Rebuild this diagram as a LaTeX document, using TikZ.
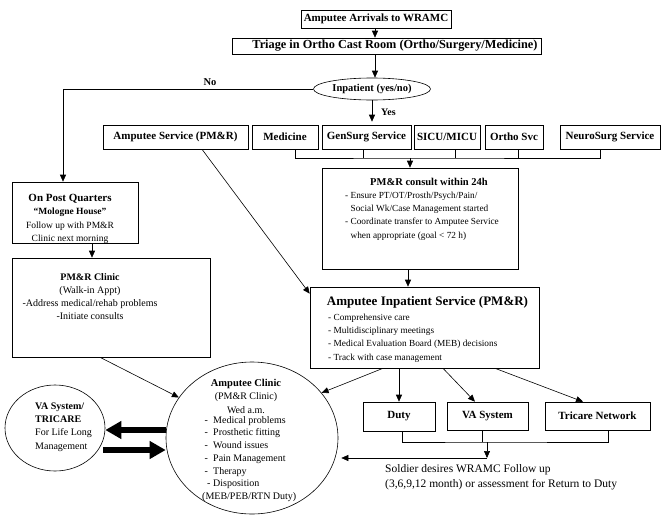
\documentclass[tikz,border=0pt]{standalone}
\usepackage{fontspec}
\setmainfont{Liberation Serif}
\usetikzlibrary{arrows.meta,shapes.geometric}
\begin{document}
\begin{tikzpicture}[x=1pt,y=-1pt,
  box/.style={draw, line width=0.6pt, inner sep=0pt, font=\bfseries\fontsize{11}{13}\selectfont},
  oval/.style={draw, ellipse, line width=0.6pt, inner sep=0pt},
  txt/.style={inner sep=0pt, font=\fontsize{9.3}{13.3}\selectfont, align=left},
  ctxt/.style={inner sep=0pt, align=center},
  arr/.style={line width=0.6pt, -{Triangle[length=7pt,width=6pt]}},
  ln/.style={line width=0.6pt},
  big/.style={line width=6pt, -{Triangle[length=16pt,width=17pt]}}]
\useasboundingbox (0,0) rectangle (661,514);
\fill[white] (0,0) rectangle (661,514);

% top chain
\node[box, minimum width=150pt, minimum height=18pt] (arrival) at (376,19) {Amputee Arrivals to WRAMC};
\node[box, minimum width=309pt, minimum height=16pt, font=\bfseries\fontsize{12.3}{14}\selectfont] (triage) at (386.5,46) {\hspace*{17pt}Triage in Ortho Cast Room (Ortho/Surgery/Medicine)};
\node[oval, minimum width=117pt, minimum height=22pt, font=\bfseries\fontsize{10.5}{12}\selectfont] (inp) at (372,89) {Inpatient (yes/no)};

% row of services
\node[box, minimum width=145pt, minimum height=24pt] (as) at (175.5,137) {Amputee Service (PM\&R)};
\node[box, minimum width=66pt, minimum height=24pt] (med) at (285,137) {Medicine};
\node[box, minimum width=89pt, minimum height=24pt] (gen) at (366.5,137) {GenSurg Service};
\node[box, minimum width=66pt, minimum height=24pt] (sicu) at (447,137) {SICU/MICU};
\node[box, minimum width=58pt, minimum height=24pt] (ortho) at (514,137) {Ortho Svc};
\node[box, minimum width=100pt, minimum height=24pt] (neuro) at (610,137) {NeuroSurg Service};

% consult box
\node[box, minimum width=196pt, minimum height=101pt] (cons) at (420,218.5) {};
\node[ctxt, font=\bfseries\fontsize{10.5}{12}\selectfont] (cons-title) at (429,182) {PM\&R consult within 24h};
\node[txt, anchor=west] (cons-body) at (345,216) {- Ensure PT/OT/Prosth/Psych/Pain/\\\hphantom{- }Social Wk/Case Management started\\- Coordinate transfer to Amputee Service\\\hphantom{- }when appropriate (goal < 72 h)};

% inpatient service
\node[box, minimum width=229pt, minimum height=81pt] (inpt) at (424.5,327.5) {};
\node[ctxt, font=\bfseries\fontsize{13}{15}\selectfont] (inpt-title) at (427.5,302) {Amputee Inpatient Service (PM\&R)};
\node[txt, anchor=west] (inpt-body) at (328,338) {- Comprehensive care\\- Multidisciplinary meetings\\- Medical Evaluation Board (MEB) decisions\\- Track with case management};

% dispositions
\node[box, minimum width=72pt, minimum height=29pt] (duty) at (399,416.5) {Duty};
\node[box, minimum width=81pt, minimum height=28pt] (vasys) at (487.5,416) {VA System};
\node[box, minimum width=105pt, minimum height=28pt] (tric) at (597.5,416) {Tricare Network};

\node[txt, anchor=west, font=\fontsize{11.5}{15}\selectfont] (soldier) at (385,477.5) {Soldier desires WRAMC Follow up\\(3,6,9,12 month) or assessment for Return to Duty};

% left column
\node[box, minimum width=126pt, minimum height=61pt] (opq) at (75,212.5) {};
\node[ctxt, font=\fontsize{9.5}{13.3}\selectfont] (opq-text) at (70,219) {{\bfseries\fontsize{11}{13}\selectfont On Post Quarters}\\{\bfseries ``Mologne House''}\\Follow up with PM\&R\\Clinic next morning};
\node[box, minimum width=198pt, minimum height=99pt] (pmrc) at (111,307.5) {};
\node[ctxt, font=\fontsize{10}{13}\selectfont] (pmrc-text) at (90,296.5) {{\bfseries PM\&R Clinic}\\(Walk-in Appt)\\-Address medical/rehab problems\\-Initiate consults};

% clinic circle
\node[oval, minimum width=172pt, minimum height=152pt] (clinic) at (252,438) {};
\node[ctxt, font=\fontsize{10}{13.5}\selectfont] (clinic-head) at (246,396) {{\bfseries\fontsize{10.5}{13}\selectfont Amputee Clinic}\\(PM\&R Clinic)\\Wed a.m.};
\node[txt, anchor=west, font=\fontsize{10}{12.7}\selectfont] (clinic-list) at (202,459) {\makebox[11pt][l]{\ -}Medical problems\\\makebox[11pt][l]{\ -}Prosthetic fitting\\\makebox[11pt][l]{\ -}Wound issues\\\makebox[11pt][l]{\ -}Pain Management\\\makebox[11pt][l]{\ -}Therapy\\\makebox[11pt][l]{\ \ -}Disposition\\(MEB/PEB/RTN Duty)};

% VA ellipse
\node[oval, minimum width=100pt, minimum height=86pt] (vaell) at (55,428) {};
\node[txt, anchor=west, font=\fontsize{10}{13.3}\selectfont] (vaell-text) at (35,427) {\textbf{VA System/}\\\textbf{TRICARE}\\For Life Long\\Management};

% labels
\node[ctxt, font=\bfseries\fontsize{10.5}{12}\selectfont] (nolab) at (210,82) {No};
\node[ctxt, anchor=west, font=\bfseries\fontsize{10}{12}\selectfont] (yeslab) at (381,112) {Yes};

% connectors top
\coordinate (a1) at ([xshift=-1pt]arrival.south);
\draw[arr] (a1) -- (a1 |- triage.north);
\draw[arr] (a1 |- triage.south) -- (a1 |- inp.north);
\coordinate (y1) at (inp.south |- gen.north);
\draw[arr] (inp.south) -- ([yshift=3pt]y1);
\coordinate (q1) at ([xshift=-12pt]opq.north);
\draw[arr] (inp.west) -| (q1);
\coordinate (q2) at ([xshift=17pt]opq.south);
\draw[arr] (q2) -- (q2 |- pmrc.north);

% row bracket
\coordinate (rowj) at (410,158);
\coordinate (t1) at ([xshift=10pt]med.south);
\coordinate (t2) at ([xshift=-3.5pt]gen.south);
\coordinate (t3) at ([xshift=8pt]sicu.south);
\coordinate (t4) at ([xshift=4pt]ortho.south);
\coordinate (t5) at ([xshift=-10pt]neuro.south);
\draw[ln] (t1) |- (rowj) -| (t5);
\foreach \t in {t2,t3,t4} \draw[ln] (\t) -- (\t |- rowj);
\draw[arr] (rowj) -- (rowj |- cons.north);
\coordinate (c1) at (cons.south -| rowj);
\draw[arr] ([xshift=-2pt]c1) -- ([xshift=-2pt]c1 |- inpt.north);

% diagonals
\draw[arr] ([xshift=26.5pt]as.south) -- ([yshift=-7pt]inpt.north west);
\draw[arr] ([xshift=-11pt]pmrc.south) -- (clinic.151);
\draw[arr] ([xshift=-41.5pt]inpt.south) -- (clinic.33);
\coordinate (d1) at (inpt.south -| duty.north);
\draw[arr] (d1) -- (duty.north);
\draw[arr] ([xshift=18.5pt]inpt.south) -- ([xshift=-12.5pt]vasys.north);
\draw[arr] ([xshift=70.5pt]inpt.south) -- ([xshift=-14.5pt]tric.north);

% lower bracket
\coordinate (bj) at (487,442);
\coordinate (b1) at ([xshift=3pt]duty.south);
\coordinate (b2) at ([xshift=-5.5pt]vasys.south);
\coordinate (b3) at ([xshift=10.5pt]tric.south);
\draw[ln] (b1) |- (bj) -| (b3);
\draw[ln] (b2) -- (b2 |- bj);
\coordinate (fu) at (487,458);
\draw[arr] (bj) -- (fu);
\draw[arr, shorten >=3pt] (fu) -- (fu -| clinic.east);

% thick arrows
\coordinate (k1) at ([yshift=8pt]clinic.west);
\coordinate (k2) at ([yshift=-12pt]clinic.west);
\draw[big] (k1) -- (k1 -| vaell.east);
\draw[big] ([xshift=-2pt]k2 -| vaell.east) -- (k2);
\end{tikzpicture}
\end{document}
